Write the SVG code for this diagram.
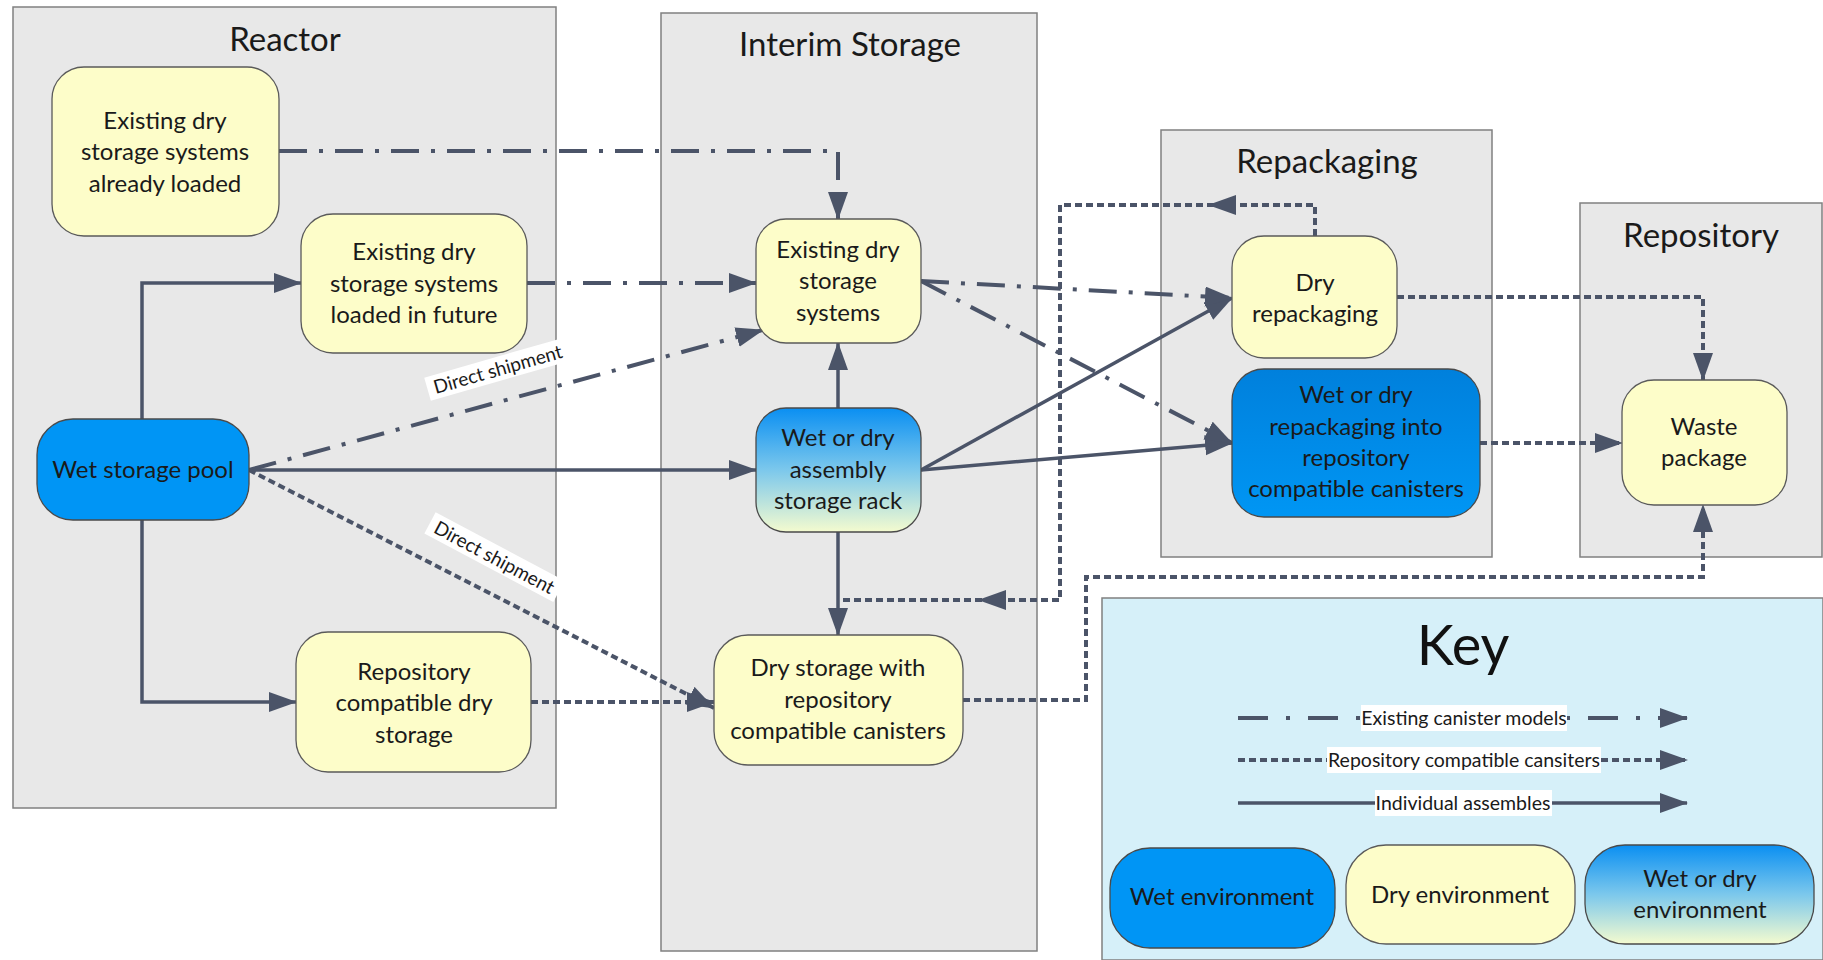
<svg xmlns="http://www.w3.org/2000/svg" width="1823" height="960" viewBox="0 0 1823 960">
<defs>
<linearGradient id="gWetDry" x1="0" y1="0" x2="0" y2="1">
<stop offset="0" stop-color="#0a8ff2"/>
<stop offset="0.5" stop-color="#7cc8ec"/>
<stop offset="1" stop-color="#f4fbcf"/>
</linearGradient>
<linearGradient id="gWetDark" x1="0" y1="0" x2="0" y2="1">
<stop offset="0" stop-color="#0080dc"/>
<stop offset="1" stop-color="#0096f4"/>
</linearGradient>
<marker id="ah" markerUnits="userSpaceOnUse" markerWidth="30" markerHeight="22" refX="27" refY="10" orient="auto">
<path d="M0,0 L28,10 L0,20 z" fill="#4b5468"/>
</marker>
<style>
.box{fill:#e8e8e8;stroke:#808080;stroke-width:1.5}
.title{font-family:Lato,"Liberation Sans",sans-serif;font-size:33px;fill:#1a1a1a;text-anchor:middle}
.dry{fill:#fdfdc9;stroke:#5a5a5a;stroke-width:1.3}
.wet{fill:#0095f5;stroke:#4a4a4a;stroke-width:1.3}
.wetdry{fill:url(#gWetDry);stroke:#4a4a4a;stroke-width:1.3}
.t{font-family:Lato,"Liberation Sans",sans-serif;font-size:24px;fill:#1a1a1a;text-anchor:middle}
.c{fill:none;stroke:#4b5468;stroke-width:3.5}
.dd{stroke-dasharray:28 12 4 12;stroke-width:4}
.ddk{stroke-dasharray:30 18 4 18;stroke-width:4}
.dot{stroke-dasharray:7 4;stroke-width:4}
.lbl{font-family:Lato,"Liberation Sans",sans-serif;font-size:19px;fill:#1a1a1a;text-anchor:middle}
.klbl{font-family:Lato,"Liberation Sans",sans-serif;font-size:19.5px;fill:#1a1a1a;text-anchor:middle}
.hd{fill:#4b5468}
</style>
</defs>
<rect width="1823" height="960" fill="#ffffff"/>

<g id="reactor">
<rect class="box" x="13" y="7" width="543" height="801"/>
<text class="title" x="285" y="51">Reactor</text>
</g>
<g id="interim">
<rect class="box" x="661" y="13" width="376" height="938"/>
<text class="title" x="850" y="56">Interim Storage</text>
</g>
<g id="repackaging">
<rect class="box" x="1161" y="130" width="331" height="427"/>
<text class="title" x="1327" y="173">Repackaging</text>
</g>
<g id="repository">
<rect class="box" x="1580" y="203" width="242" height="354"/>
<text class="title" x="1701" y="247">Repository</text>
</g>
<g id="key">
<rect x="1102" y="598" width="721" height="362" fill="#d6f0f9" stroke="#808080" stroke-width="1.5"/>
<text x="1463" y="665" font-family="Lato,'Liberation Sans',sans-serif" font-size="56" fill="#111" text-anchor="middle">Key</text>
</g>

<g id="connectors">
<path class="c dd" d="M279,151 H838 V219" marker-end="url(#ah)"/>
<path class="c dd" d="M527,283 H756" marker-end="url(#ah)"/>
<path class="c" d="M142,419 V283 H301" marker-end="url(#ah)"/>
<path class="c" d="M142,520 V702 H296" marker-end="url(#ah)"/>
<path class="c dd" d="M249,470 L763,330" marker-end="url(#ah)"/>
<path class="c" d="M249,470 H756" marker-end="url(#ah)"/>
<path class="c dot" d="M249,470 L714,708" marker-end="url(#ah)"/>
<path class="c dot" d="M531,702 H714" marker-end="url(#ah)"/>
<path class="c" d="M838,408 V343" marker-end="url(#ah)"/>
<path class="c" d="M838,532 V635" marker-end="url(#ah)"/>
<path class="c" d="M921,470 L1232,298" marker-end="url(#ah)"/>
<path class="c" d="M921,470 L1232,443" marker-end="url(#ah)"/>
<path class="c dd" d="M921,281 L1232,298" marker-end="url(#ah)"/>
<path class="c dd" d="M921,281 L1232,443" marker-end="url(#ah)"/>
<path class="c dot" d="M1315,236 V205 H1060 V600 H838"/>
<path class="hd" d="M1208,205 L1236,195 L1236,215 z"/>
<path class="hd" d="M978,600 L1006,590 L1006,610 z"/>
<path class="c dot" d="M1397,297 H1703 V380" marker-end="url(#ah)"/>
<path class="c dot" d="M1480,443 H1622" marker-end="url(#ah)"/>
<path class="c dot" d="M963,700 H1086 V577 H1703 V505" marker-end="url(#ah)"/>
<g transform="translate(498,370) rotate(-16)">
<rect x="-73" y="-13" width="146" height="24" fill="#ffffff"/>
<text class="lbl" x="0" y="6">Direct shipment</text>
</g>
<g transform="translate(494,558) rotate(28)">
<rect x="-73" y="-13" width="146" height="24" fill="#ffffff"/>
<text class="lbl" x="0" y="6">Direct shipment</text>
</g>
<path class="c ddk" d="M1238,718 H1687" marker-end="url(#ah)"/>
<path class="c dot" d="M1238,760 H1687" marker-end="url(#ah)"/>
<path class="c" d="M1238,803 H1687" marker-end="url(#ah)"/>
<rect x="1361" y="705" width="206" height="26" fill="#ffffff"/>
<text class="klbl" x="1464" y="725">Existing canister models</text>
<rect x="1327" y="747" width="274" height="26" fill="#ffffff"/>
<text class="klbl" x="1464" y="767">Repository compatible cansiters</text>
<rect x="1375" y="790" width="177" height="26" fill="#ffffff"/>
<text class="klbl" x="1463" y="810">Individual assembles</text>
</g>

<g id="node-existing-loaded">
<rect class="dry" x="52" y="67" width="227" height="169" rx="32"/>
<text class="t" x="165" y="129">Existing dry</text>
<text class="t" x="165" y="160">storage systems</text>
<text class="t" x="165" y="192">already loaded</text>
</g>
<g id="node-existing-future">
<rect class="dry" x="301" y="214" width="226" height="139" rx="32"/>
<text class="t" x="414" y="260">Existing dry</text>
<text class="t" x="414" y="292">storage systems</text>
<text class="t" x="414" y="323">loaded in future</text>
</g>
<g id="node-pool">
<rect class="wet" x="37" y="419" width="212" height="101" rx="36"/>
<text class="t" x="143" y="478">Wet storage pool</text>
</g>
<g id="node-repo-dry">
<rect class="dry" x="296" y="632" width="235" height="140" rx="32"/>
<text class="t" x="414" y="680">Repository</text>
<text class="t" x="414" y="711">compatible dry</text>
<text class="t" x="414" y="743">storage</text>
</g>
<g id="node-existing">
<rect class="dry" x="756" y="219" width="165" height="124" rx="30"/>
<text class="t" x="838" y="258">Existing dry</text>
<text class="t" x="838" y="289">storage</text>
<text class="t" x="838" y="321">systems</text>
</g>
<g id="node-rack">
<rect class="wetdry" x="756" y="408" width="165" height="124" rx="30"/>
<text class="t" x="838" y="446">Wet or dry</text>
<text class="t" x="838" y="478">assembly</text>
<text class="t" x="838" y="509">storage rack</text>
</g>
<g id="node-drystorage-repo">
<rect class="dry" x="714" y="635" width="249" height="130" rx="34"/>
<text class="t" x="838" y="676">Dry storage with</text>
<text class="t" x="838" y="708">repository</text>
<text class="t" x="838" y="739">compatible canisters</text>
</g>
<g id="node-dry-repack">
<rect class="dry" x="1232" y="236" width="165" height="122" rx="32"/>
<text class="t" x="1315" y="291">Dry</text>
<text class="t" x="1315" y="322">repackaging</text>
</g>
<g id="node-wet-repack">
<rect x="1232" y="369" width="248" height="148" rx="32" fill="url(#gWetDark)" stroke="#4a4a4a" stroke-width="1.3"/>
<text class="t" x="1356" y="403">Wet or dry</text>
<text class="t" x="1356" y="435">repackaging into</text>
<text class="t" x="1356" y="466">repository</text>
<text class="t" x="1356" y="497">compatible canisters</text>
</g>
<g id="node-waste">
<rect class="dry" x="1622" y="380" width="165" height="125" rx="32"/>
<text class="t" x="1704" y="435">Waste</text>
<text class="t" x="1704" y="466">package</text>
</g>
<g id="key-wet">
<rect class="wet" x="1110" y="848" width="225" height="100" rx="40"/>
<text class="t" x="1222" y="905">Wet environment</text>
</g>
<g id="key-dry">
<rect class="dry" x="1346" y="845" width="229" height="99" rx="40"/>
<text class="t" x="1460" y="903">Dry environment</text>
</g>
<g id="key-wetdry">
<rect class="wetdry" x="1585" y="845" width="229" height="99" rx="40"/>
<text class="t" x="1700" y="887">Wet or dry</text>
<text class="t" x="1700" y="918">environment</text>
</g>
</svg>
